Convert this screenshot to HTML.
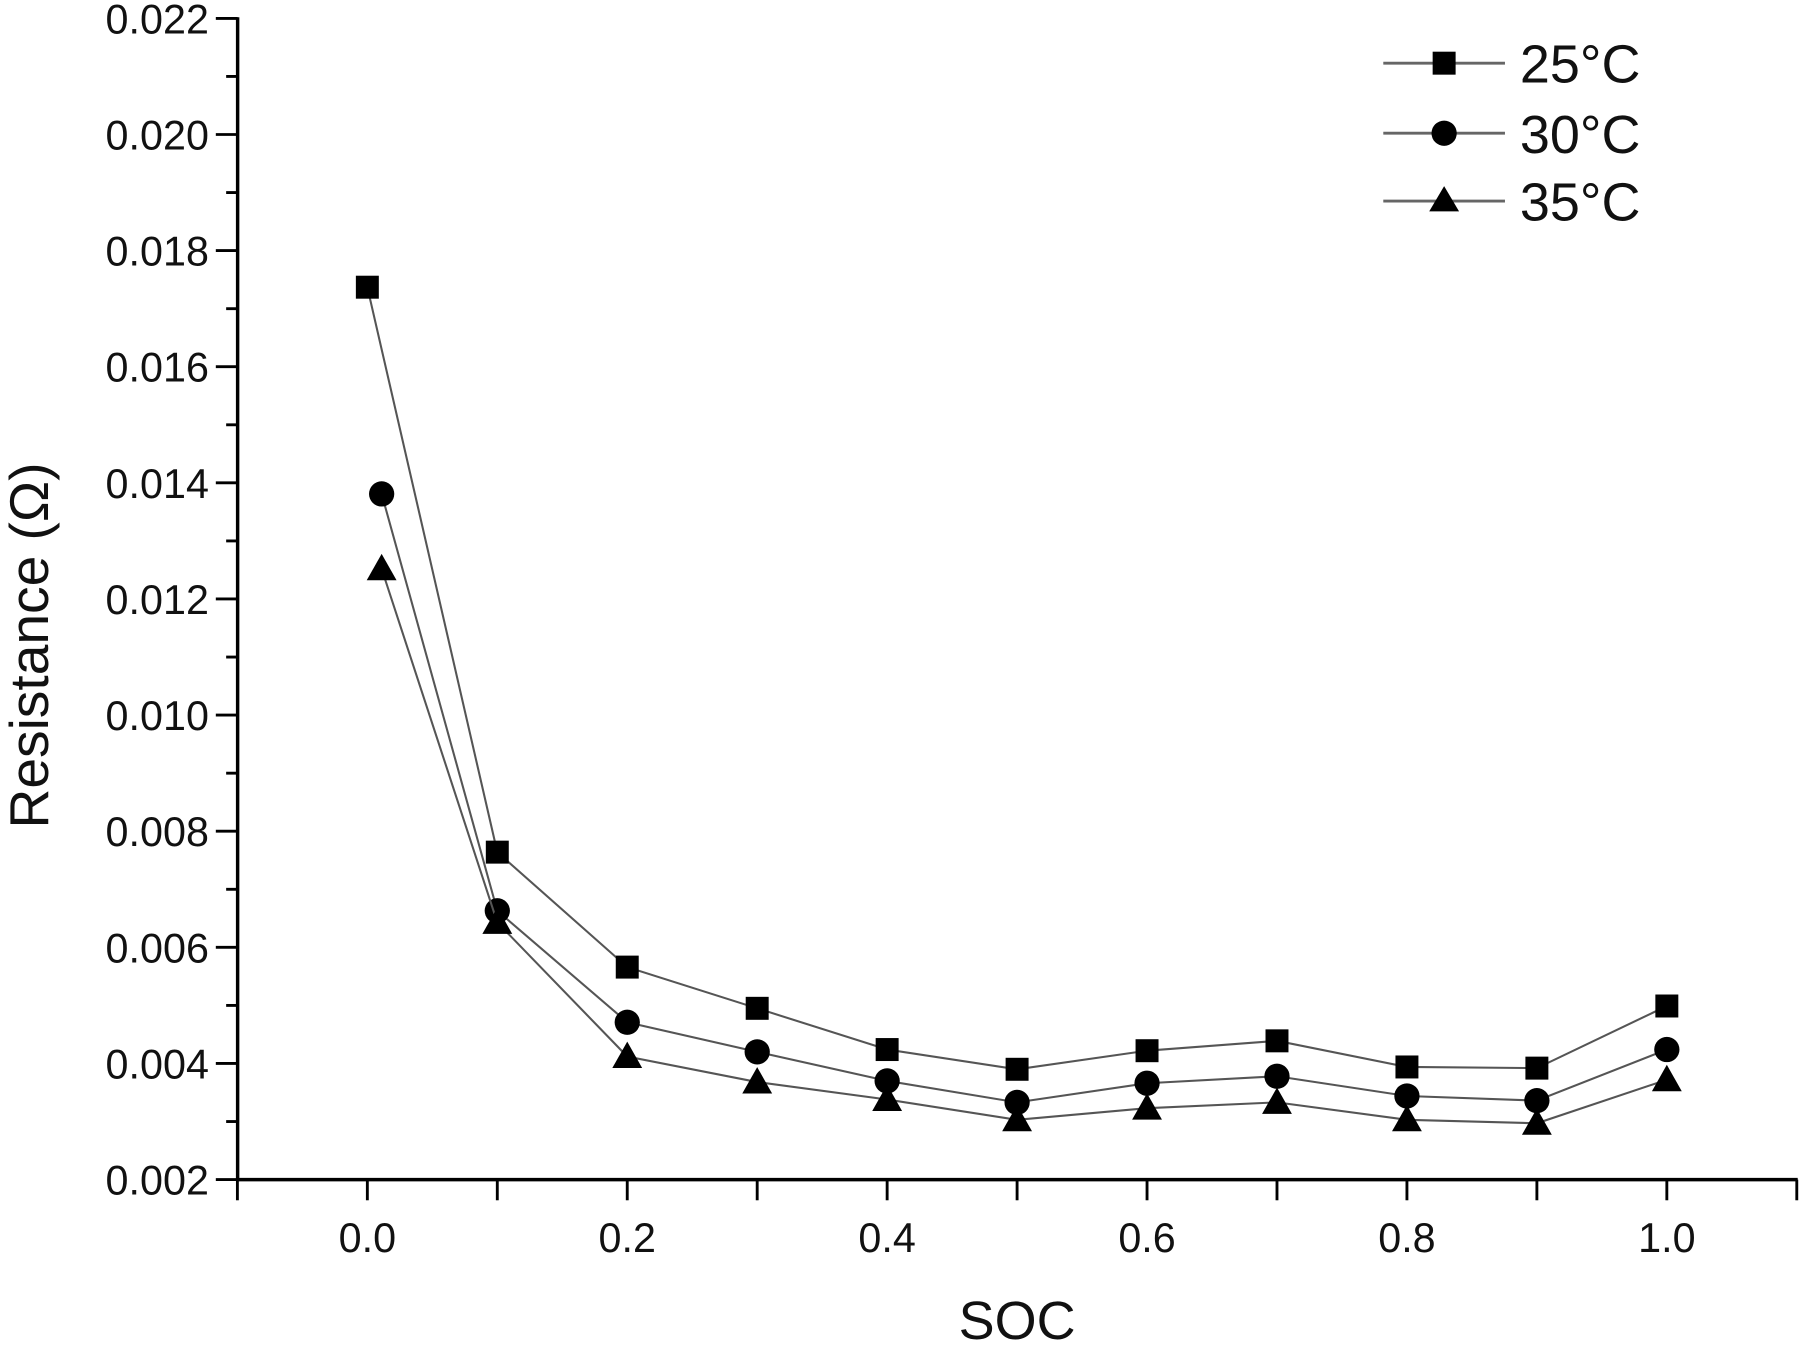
<!DOCTYPE html>
<html><head><meta charset="utf-8"><style>html,body{margin:0;padding:0;background:#fff}svg{display:block}</style></head>
<body>
<svg width="1800" height="1345" viewBox="0 0 1568 1171" preserveAspectRatio="none" xmlns="http://www.w3.org/2000/svg" font-family="Liberation Sans, sans-serif">
<g stroke="#000" stroke-width="3" fill="none">
<line x1="207" y1="15" x2="207" y2="1028"/>
<line x1="206" y1="1027" x2="1566" y2="1027"/>
</g>
<g id="yt" stroke="#000" stroke-width="2.5"></g>
<g id="xt" stroke="#000" stroke-width="2.5"></g>
<g id="yl" font-size="36" text-anchor="end" fill="#111"></g>
<g id="xl" font-size="36" text-anchor="middle" fill="#111"></g>
<text x="886" y="1166" font-size="47" text-anchor="middle" fill="#111">SOC</text>
<text transform="translate(42,562) rotate(-90)" font-size="48" text-anchor="middle" fill="#111">Resistance (Ω)</text>
<g id="series"></g>
<g stroke="#666" stroke-width="2.5">
<line x1="1205" y1="55" x2="1311" y2="55"/>
<line x1="1205" y1="116" x2="1311" y2="116"/>
<line x1="1205" y1="175" x2="1311" y2="175"/>
</g>
<rect x="1248" y="45" width="20" height="20" fill="#000"/>
<circle cx="1258" cy="116" r="11" fill="#000"/>
<polygon points="1258,162 1271,184 1245,184" fill="#000"/>
<g font-size="47" fill="#111">
<text x="1324" y="72">25°C</text>
<text x="1324" y="133">30°C</text>
<text x="1324" y="192">35°C</text>
</g>
<script>
var ns="http://www.w3.org/2000/svg";
function el(p,t,a,txt){var e=document.createElementNS(ns,t);for(var k in a)e.setAttribute(k,a[k]);if(txt)e.textContent=txt;document.getElementById(p).appendChild(e);return e;}
function Y(v){return 1027-(v-0.002)/0.002*101.1;}
function X(s){return 320+s*1132;}
for(var i=0;i<=20;i++){var v=0.002+i*0.001,y=Y(v);
 el("yt","line",{x1:i%2?197:188,y1:y,x2:207,y2:y});
 if(i%2==0)el("yl","text",{x:182,y:y+13},v.toFixed(3));}
for(var i=-1;i<=11;i++){var x=X(i/10);
 el("xt","line",{x1:x,y1:1027,x2:x,y2:1045});
 if(i>=0&&i<=10&&i%2==0)el("xl","text",{x:x,y:1090},(i/10).toFixed(1));}
var xs=[0,0.1,0.2,0.3,0.4,0.5,0.6,0.7,0.8,0.9,1.0];
var d=[
 {x0:0,v:[0.01737,0.00764,0.00566,0.00495,0.00424,0.0039,0.00422,0.00439,0.00394,0.00392,0.00499],m:"s"},
 {x0:0.011,v:[0.01381,0.00663,0.00471,0.0042,0.0037,0.00333,0.00366,0.00378,0.00344,0.00336,0.00424],m:"c"},
 {x0:0.011,v:[0.01252,0.00643,0.00412,0.00368,0.00338,0.00303,0.00323,0.00333,0.00303,0.00297,0.00372],m:"t"}];
d.forEach(function(s){var pts=[];s.v.forEach(function(v,i){var x=X(i==0?s.x0:xs[i]),y=Y(v);pts.push([x,y]);});
 el("series","polyline",{points:pts.map(function(p){return p.join(",")}).join(" "),fill:"none",stroke:"#555","stroke-width":1.8});
 pts.forEach(function(p){var x=p[0],y=p[1];
  if(s.m=="s")el("series","rect",{x:x-10,y:y-10,width:20,height:20,fill:"#000"});
  else if(s.m=="c")el("series","circle",{cx:x,cy:y,r:11,fill:"#000"});
  else el("series","polygon",{points:(x)+","+(y-13)+" "+(x+13)+","+(y+10)+" "+(x-13)+","+(y+10),fill:"#000"});});});
</script>
</svg>
</body></html>
